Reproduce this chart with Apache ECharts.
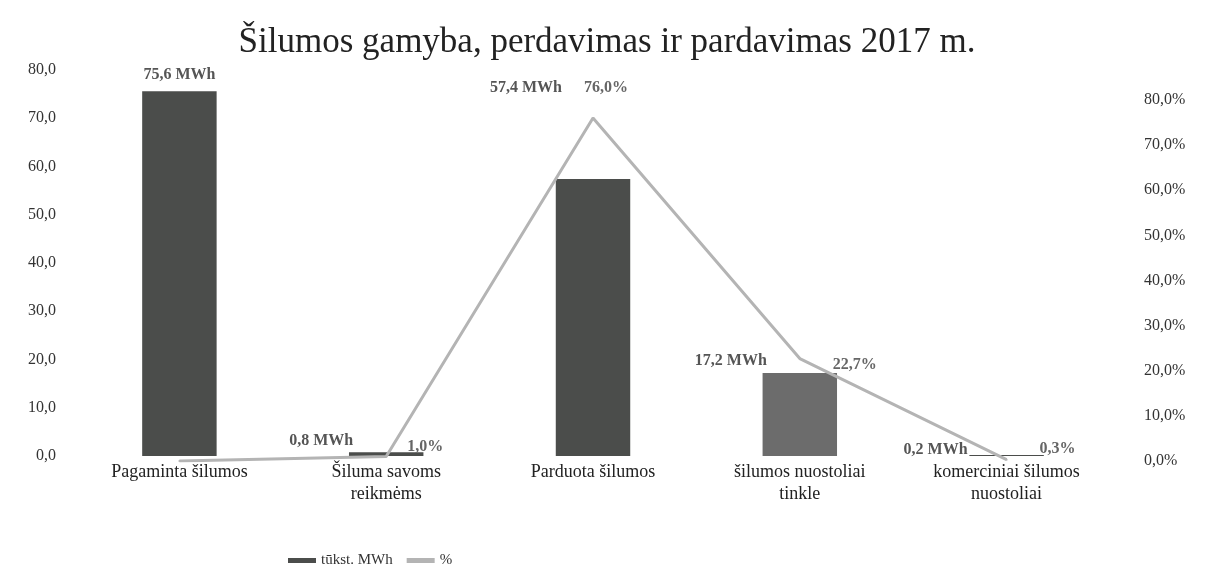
<!DOCTYPE html>
<html>
<head>
<meta charset="utf-8">
<script src="https://cdn.jsdelivr.net/npm/echarts@6/dist/echarts.min.js"></script>
<style>
  html, body { margin: 0; padding: 0; background: #fff; }
  #chart { width: 1214px; height: 585px; }
</style>
</head>
<body>
<div id="chart"></div>
<script>
// categories and values
var categories = ['Pagaminta šilumos', 'Šiluma savoms\nreikmėms', 'Parduota šilumos',
  'šilumos nuostoliai\ntinkle', 'komerciniai šilumos\nnuostoliai'];
var mwh = [75.6, 0.8, 57.4, 17.2, 0.2];
var percent = [0, 1.0, 76.0, 22.7, 0.3];
var leftTicks = [0, 10, 20, 30, 40, 50, 60, 70, 80];

var serif = '"Liberation Serif", "DejaVu Serif", serif';
var comma = function (v, d) { return v.toFixed(d).replace('.', ','); };

// label nudges around the line points (MWh on the left, % on the right)
var mwhShift = [[0, 0], [-14, -16], [-12, -30], [-14, 2], [-20, -10]];
var pctShift = [[0, 0], [0, -10], [-30, -30], [12, 6], [12, -11]];

var chart = echarts.init(document.getElementById('chart'));

chart.setOption({
  animation: false,
  textStyle: { fontFamily: serif },
  title: {
    text: 'Šilumos gamyba, perdavimas ir pardavimas 2017 m.',
    left: 'center',
    top: 20,
    textStyle: { fontFamily: serif, fontSize: 35, fontWeight: 'normal', color: '#222' }
  },
  legend: {
    left: 283,
    bottom: 12,
    itemWidth: 28,
    itemHeight: 5,
    itemGap: 14,
    textStyle: { fontFamily: serif, fontSize: 15, color: '#333' },
    data: [
      { name: 'tūkst. MWh', icon: 'rect', itemStyle: { color: '#4b4d4b', opacity: 1 } },
      { name: '%', icon: 'rect', itemStyle: { color: '#b4b4b4', opacity: 1 } }
    ]
  },
  grid: [
    { left: 76, right: 104, top: 70, bottom: 129 },
    { left: 76, right: 104, top: 100, bottom: 124 }
  ],
  xAxis: [
    {
      type: 'category', gridIndex: 0, data: categories,
      axisLine: { show: false }, axisTick: { show: false },
      axisLabel: { fontFamily: serif, fontSize: 18, color: '#222', margin: 5, lineHeight: 22, interval: 0 }
    },
    {
      type: 'category', gridIndex: 1, data: categories, show: false
    }
  ],
  yAxis: [
    {
      type: 'value', gridIndex: 0, min: leftTicks[0], max: leftTicks[leftTicks.length - 1], interval: 10,
      axisLine: { show: false }, axisTick: { show: false }, splitLine: { show: false },
      axisLabel: { fontFamily: serif, fontSize: 16, color: '#333', margin: 20,
        formatter: function (v) { return comma(v, 1); } }
    },
    {
      type: 'value', gridIndex: 1, position: 'right', min: 0, max: 80, interval: 10,
      axisLine: { show: false }, axisTick: { show: false }, splitLine: { show: false },
      axisLabel: { fontFamily: serif, fontSize: 16, color: '#333', margin: 34,
        formatter: function (v) { return comma(v, 1) + '%'; } }
    }
  ],
  series: [
    {
      name: 'tūkst. MWh',
      type: 'bar',
      xAxisIndex: 0, yAxisIndex: 0,
      data: mwh,
      barWidth: '36%',
      itemStyle: {
        color: function (p) { return p.dataIndex === 3 ? '#6c6c6c' : '#4b4d4b'; }
      },
      label: {
        show: true, position: 'top', distance: 8,
        fontFamily: serif, fontSize: 16, fontWeight: 'bold', color: '#555',
        formatter: function (p) { return p.dataIndex === 0 ? comma(p.value, 1) + ' MWh' : ''; }
      }
    },
    {
      name: '%',
      type: 'line',
      xAxisIndex: 1, yAxisIndex: 1,
      data: percent,
      symbol: 'circle',
      symbolSize: 2,
      showSymbol: true,
      z: 3,
      lineStyle: { color: '#b4b4b4', width: 3 },
      itemStyle: { color: '#b4b4b4' },
      label: {
        show: true, position: 'right', distance: 20,
        fontFamily: serif, fontSize: 16, fontWeight: 'bold', color: '#666',
        formatter: function (p) { return p.dataIndex === 0 ? '' : comma(p.value, 1) + '%'; }
      },
      labelLayout: function (p) {
        var s = pctShift[p.dataIndex];
        return { dx: s[0], dy: s[1] };
      }
    },
    {
      // invisible companion of the % line, carries the MWh labels left of each point
      name: 'mwhLabels',
      type: 'line',
      xAxisIndex: 1, yAxisIndex: 1,
      data: percent,
      symbol: 'circle',
      symbolSize: 2,
      showSymbol: true,
      silent: true,
      lineStyle: { color: 'rgba(0,0,0,0)', width: 0 },
      itemStyle: { color: 'rgba(0,0,0,0)' },
      label: {
        show: true, position: 'left', distance: 18,
        fontFamily: serif, fontSize: 16, fontWeight: 'bold', color: '#555',
        formatter: function (p) { return p.dataIndex === 0 ? '' : comma(mwh[p.dataIndex], 1) + ' MWh'; }
      },
      labelLayout: function (p) {
        var s = mwhShift[p.dataIndex];
        return { dx: s[0], dy: s[1] };
      }
    }
  ]
});
</script>
</body>
</html>
